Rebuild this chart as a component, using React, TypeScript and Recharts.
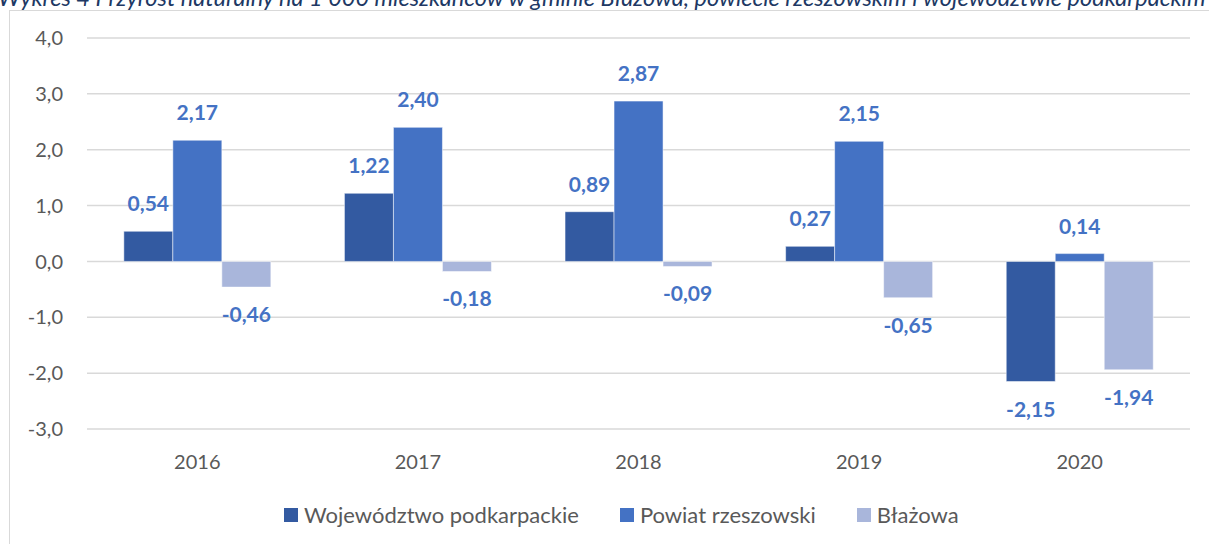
import { BarChart, Bar, XAxis, YAxis, CartesianGrid, LabelList } from "recharts";

const years = ["2016", "2017", "2018", "2019", "2020"];
const wojewodztwo = [0.54, 1.22, 0.89, 0.27, -2.15];
const powiat = [2.17, 2.4, 2.87, 2.15, 0.14];
const blazowa = [-0.46, -0.18, -0.09, -0.65, -1.94];
const yTicks = [-3, -2, -1, 0, 1, 2, 3, 4];
const seriesNames = ["Województwo podkarpackie", "Powiat rzeszowski", "Błażowa"];
const title =
  "Wykres 4 Przyrost naturalny na 1 000 mieszkańców w gminie Błażowa, powiecie rzeszowskim i województwie podkarpackim";

const colors = ["#335AA1", "#4472C4", "#A9B6DB"];
const FONT = "Lato, 'Open Sans', sans-serif";

const data = years.map((year, i) => ({
  year,
  woj: wojewodztwo[i],
  pow: powiat[i],
  bla: blazowa[i],
}));

const keys = ["woj", "pow", "bla"];

// labels sit outside the bar end, like Excel's "outside end"
const renderLabel = (props: any) => {
  const { x, y, width, height, value } = props;
  const top = Math.min(y, y + height);
  const bottom = Math.max(y, y + height);
  const ty = value >= 0 ? top - 20 : bottom + 35;
  return (
    <text
      x={x + width / 2}
      y={ty}
      textAnchor="middle"
      fill="#4472C4"
      fontSize={21}
      fontWeight="bold"
      fontFamily={FONT}
    >
      {Number(value).toFixed(2).replace(".", ",")}
    </text>
  );
};

export default function App() {
  return (
    <div
      style={{
        position: "relative",
        width: 1209,
        height: 544,
        overflow: "hidden",
        background: "#fff",
        fontFamily: FONT,
      }}
    >
      <style>{`body{margin:0}`}</style>
      <div
        style={{
          position: "absolute",
          left: 9,
          top: 10,
          width: 1400,
          height: 800,
          border: "1px solid #d9d9d9",
        }}
      />
      <div
        style={{
          position: "absolute",
          left: -2,
          top: -17,
          whiteSpace: "nowrap",
          fontStyle: "italic",
          fontSize: 23.5,
          color: "#203864",
        }}
      >
        {title}
      </div>
      <div style={{ position: "absolute", left: 0, top: 0 }}>
        <BarChart
          width={1209}
          height={544}
          data={data}
          margin={{ top: 38, right: 19, left: 0, bottom: 0 }}
          barCategoryGap="16.7%"
          barGap={0}
        >
          <CartesianGrid vertical={false} stroke="#d9d9d9" strokeWidth={1.5} />
          <XAxis
            dataKey="year"
            height={115}
            axisLine={false}
            tickLine={false}
            tickSize={0}
            tickMargin={26}
            tick={{ fill: "#595959", fontSize: 20, fontFamily: FONT }}
          />
          <YAxis
            width={87}
            domain={[-3, 4]}
            ticks={yTicks}
            interval={0}
            axisLine={false}
            tickLine={false}
            tickSize={0}
            tickMargin={24}
            tickFormatter={(v: number) => v.toFixed(1).replace(".", ",")}
            tick={{ fill: "#595959", fontSize: 20, fontFamily: FONT }}
          />
          {keys.map((k, i) => (
            <Bar
              key={k}
              dataKey={k}
              name={seriesNames[i]}
              fill={colors[i]}
              stroke="#fff"
              strokeWidth={0.5}
              isAnimationActive={false}
            >
              <LabelList dataKey={k} content={renderLabel} />
            </Bar>
          ))}
        </BarChart>
      </div>
      <div
        style={{
          position: "absolute",
          left: 284,
          top: 501,
          display: "flex",
          alignItems: "center",
          gap: 41,
          fontSize: 22,
          color: "#595959",
          whiteSpace: "nowrap",
        }}
      >
        {seriesNames.map((n, i) => (
          <div key={n} style={{ display: "flex", alignItems: "center" }}>
            <span
              style={{
                display: "inline-block",
                width: 14,
                height: 14,
                background: colors[i],
                marginRight: 6,
              }}
            />
            <span>{n}</span>
          </div>
        ))}
      </div>
    </div>
  );
}
